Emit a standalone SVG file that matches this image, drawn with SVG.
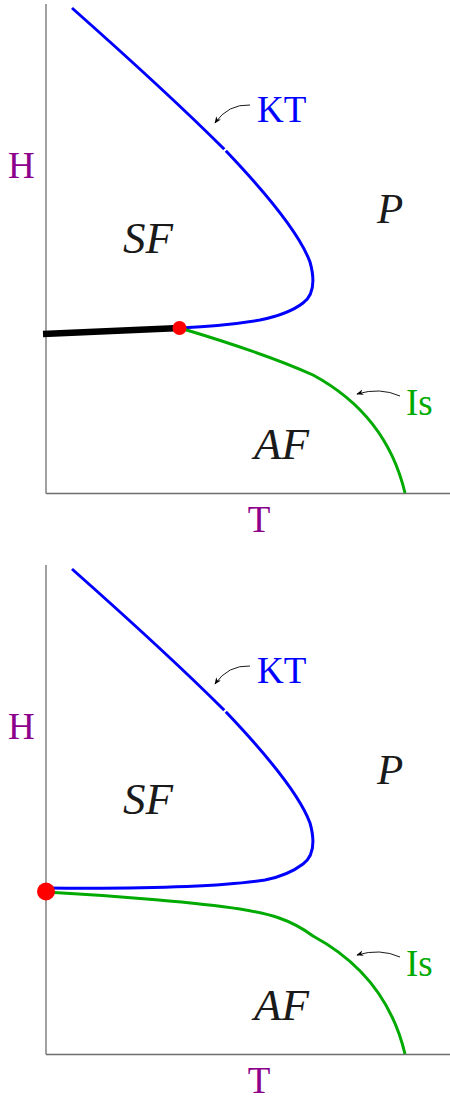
<svg xmlns="http://www.w3.org/2000/svg" width="450" height="1098" viewBox="0 0 450 1098">
<defs>
<style>
.ax{stroke:#6e6e6e;stroke-width:1.3;fill:none}
.kt{stroke:#0000ff;stroke-width:3;fill:none;stroke-linecap:butt}
.is{stroke:#00aa00;stroke-width:3;fill:none}
.ptr{stroke:#000;stroke-width:0.9;fill:none;marker-end:url(#ah)}
.lab{font-family:"Liberation Serif","Times New Roman",serif;font-size:37px}
.ph{font-family:"Liberation Serif","Times New Roman",serif;font-style:italic;fill:#1a1a1a}
.pur{fill:#8c008c}
</style>
<marker id="ah" viewBox="0 0 10 10" refX="9" refY="5" markerWidth="7" markerHeight="7" orient="auto" markerUnits="userSpaceOnUse">
<path d="M0,1 L10,5 L0,9 L3,5 Z" fill="#000"/>
</marker>
</defs>

<g id="panel-top">
<g id="axes-top">
<line class="ax" x1="46" y1="4" x2="46" y2="493.5"/>
<line class="ax" x1="46" y1="493.5" x2="450" y2="493.5"/>
</g>
<g id="curves-top">
<path class="kt" d="M72,8 C125,55 185,110 224.3,149.3"/>
<path class="kt" d="M225.8,150.8 C265,192 300,235 310,262 C315,280 314,295 303,303 C290,313 270,318 260,320 C230,325 200,327 180,328"/>
<path class="is" d="M180,328 C230,343 280,360 313,375 C350,395 390,430 405,493"/>
<line x1="43" y1="334" x2="180" y2="328" stroke="#000" stroke-width="6.5"/>
<circle id="dot-top" cx="179.5" cy="328" r="7" fill="#ff0000"/>
</g>
<g id="pointers-top">
<path class="ptr" d="M250,105 Q228,104 215,123"/>
<path class="ptr" d="M400,396 Q380,387 357,394"/>
</g>
<g id="labels-top">
<text class="lab pur" x="8" y="178">H</text>
<text class="lab pur" x="259" y="532" text-anchor="middle">T</text>
<text class="lab" x="257" y="122" fill="#0000ff">KT</text>
<text class="lab" x="406" y="415" fill="#00aa00">Is</text>
<text class="ph" x="123" y="253" font-size="45">SF</text>
<text class="ph" x="377" y="223" font-size="43">P</text>
<text class="ph" x="254" y="459" font-size="45">AF</text>
</g>
</g>

<g id="panel-bottom" transform="translate(0,561)">
<g id="axes-bottom">
<line class="ax" x1="46" y1="4" x2="46" y2="493.5"/>
<line class="ax" x1="46" y1="493.5" x2="450" y2="493.5"/>
</g>
<g id="curves-bottom">
<path class="kt" d="M72,8 C125,55 185,110 224.3,149.3"/>
<path class="kt" d="M225.8,150.8 C265,192 300,235 310,262 C315,280 314,295 303,303 C290,313 275,317 265,319 C220,326 150,328 46,327"/>
<path class="is" d="M46,331 C120,335 200,342 240,348 C270,353 290,358 313,375 C350,395 390,430 405,493"/>
<circle id="dot-bottom" cx="46" cy="330.5" r="9" fill="#ff0000"/>
</g>
<g id="pointers-bottom">
<path class="ptr" d="M250,105 Q228,104 215,123"/>
<path class="ptr" d="M400,396 Q380,387 357,394"/>
</g>
<g id="labels-bottom">
<text class="lab pur" x="8" y="178">H</text>
<text class="lab pur" x="259" y="532" text-anchor="middle">T</text>
<text class="lab" x="257" y="122" fill="#0000ff">KT</text>
<text class="lab" x="406" y="415" fill="#00aa00">Is</text>
<text class="ph" x="123" y="253" font-size="45">SF</text>
<text class="ph" x="377" y="223" font-size="43">P</text>
<text class="ph" x="254" y="459" font-size="45">AF</text>
</g>
</g>
</svg>
